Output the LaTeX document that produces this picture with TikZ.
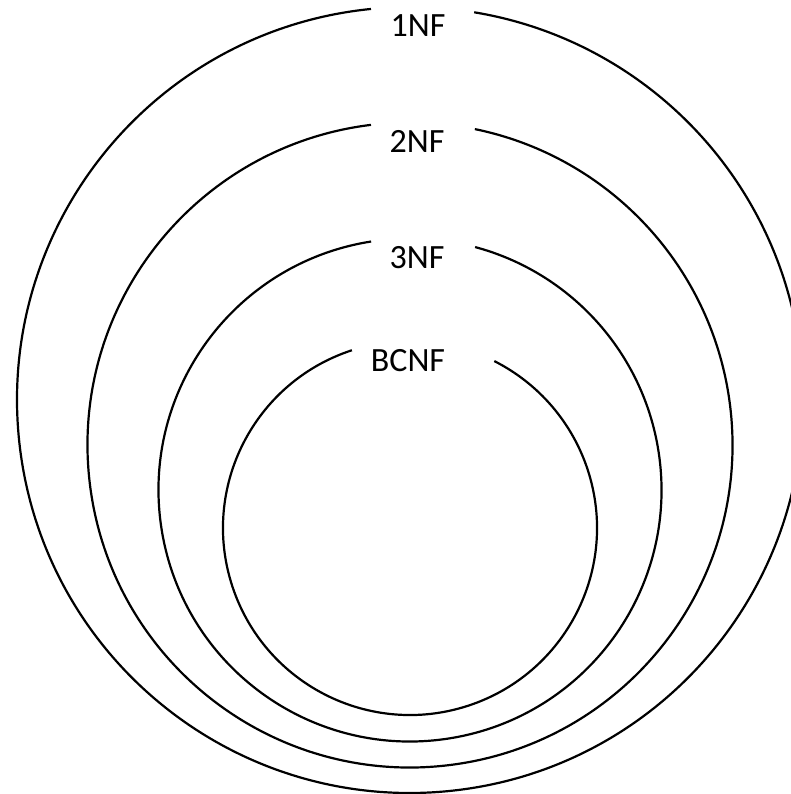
\documentclass[tikz,border=0pt]{standalone}
\usepackage{fontspec}
\setmainfont{Carlito}
\begin{document}
\begin{tikzpicture}[x=1pt,y=1pt,
  ring/.style={draw=black,line width=2.2pt},
  lbl/.style={font=\fontsize{34}{40}\selectfont,anchor=base,inner sep=0pt}]
\useasboundingbox (0,0) rectangle (791,794);
% centres
\coordinate (c1) at (410,394);
\coordinate (c2) at (410,349);
\coordinate (c3) at (410,304);
\coordinate (c4) at (410,266);
% rings with a gap at the top
\draw[ring] (c1) ++(95.7:393) arc[start angle=95.7,end angle=440.6,radius=393];
\draw[ring] (c2) ++(96.95:322.5) arc[start angle=96.95,end angle=438.4,radius=322.5];
\draw[ring] (c3) ++(98.9:251.5) arc[start angle=98.9,end angle=435.0,radius=251.5];
\draw[ring] (c4) ++(108.1:187) arc[start angle=108.1,end angle=423.2,radius=187];
% labels
\node[lbl] (l1) at (418,757) {1NF};
\node[lbl] (l2) at (417,641) {2NF};
\node[lbl] (l3) at (417,525) {3NF};
\node[lbl] (l4) at (408,422) {BCNF};
\end{tikzpicture}
\end{document}
